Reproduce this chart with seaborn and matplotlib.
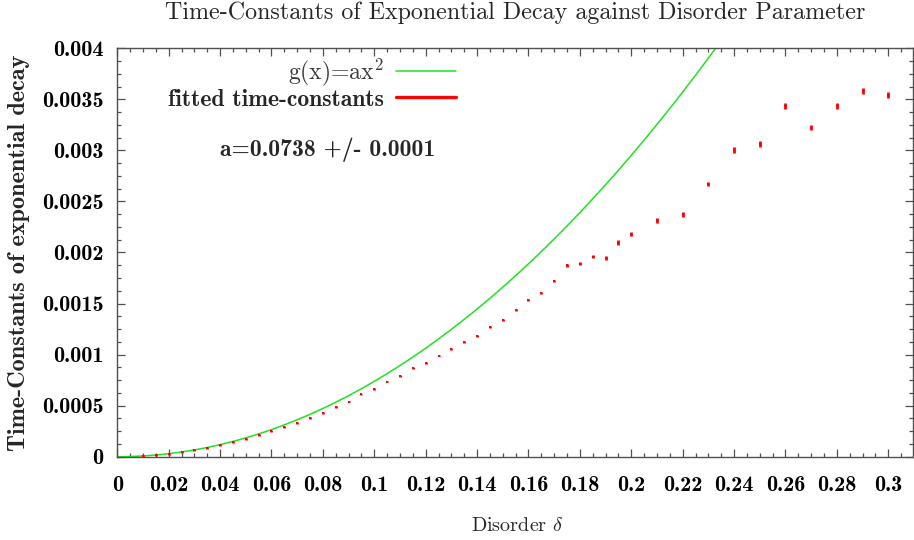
import numpy as np
import matplotlib
matplotlib.use("Agg")
import matplotlib.pyplot as plt
from matplotlib.lines import Line2D
from matplotlib.ticker import MultipleLocator, FuncFormatter
import seaborn as sns

# Disorder parameter values
delta = [0.010, 0.015, 0.020, 0.025, 0.030, 0.035, 0.040, 0.045, 0.050, 0.055,
         0.060, 0.065, 0.070, 0.075, 0.080, 0.085, 0.090, 0.095, 0.100, 0.105,
         0.110, 0.115, 0.120, 0.125, 0.130, 0.135, 0.140, 0.145, 0.150, 0.155,
         0.160, 0.165, 0.170, 0.175, 0.180, 0.185, 0.190, 0.195, 0.200, 0.210,
         0.220, 0.230, 0.240, 0.250, 0.260, 0.270, 0.280, 0.290, 0.300]

# Fitted time-constants of the exponential decay
tau = [0.000007, 0.000014, 0.000029, 0.000046, 0.000066, 0.000088, 0.000115,
       0.000141, 0.000173, 0.000210, 0.000249, 0.000291, 0.000330, 0.000376,
       0.000431, 0.000487, 0.000539, 0.000611, 0.000663, 0.000735, 0.000790,
       0.000869, 0.000915, 0.000990, 0.001058, 0.001123, 0.001185, 0.001273,
       0.001342, 0.001434, 0.001535, 0.001606, 0.001724, 0.001875, 0.001890,
       0.001959, 0.001946, 0.002096, 0.002184, 0.002315, 0.002374, 0.002674,
       0.003004, 0.003063, 0.003438, 0.003222, 0.003438, 0.003582, 0.003543]

# Uncertainty of each fitted time-constant
tau_err = [0.000008] * 24 + [0.000010] * 9 + \
          [0.000015, 0.000015, 0.000015, 0.000015, 0.000022, 0.000020,
           0.000024, 0.000023, 0.000020, 0.000031, 0.000026, 0.000031,
           0.000026, 0.000031, 0.000034, 0.000029]

# Quadratic fit g(x) = a x^2
fit_a = 0.0738
fit_a_err = 0.0001

x_ticks_step = 0.02
y_ticks_step = 0.0005

GREEN = "#22e022"
RED = "#ff0000"
AXIS_GREY = "#505050"

sns.set_style("ticks")
plt.rcParams.update({
    "font.family": ["cmr10", "DejaVu Serif"],
    "mathtext.fontset": "cm",
    "axes.formatter.use_mathtext": True,
    "axes.unicode_minus": False,
})

fig = plt.figure(figsize=(9.14, 5.40), dpi=100)
ax = fig.add_axes([117.3 / 914, 83.3 / 540, 795.4 / 914, 408.4 / 540])

xs = np.linspace(0, 0.31, 400)
sns.lineplot(x=xs, y=fit_a * xs ** 2, ax=ax, color=GREEN, lw=1.1, zorder=2)

ax.errorbar(delta, tau, yerr=tau_err, fmt="s", ms=2.0, mew=0, color=RED,
            ecolor=RED, elinewidth=2.0, capsize=0, zorder=3)

ax.set_xlim(0, 0.3095)
ax.set_ylim(0, 0.004)

ax.xaxis.set_major_locator(MultipleLocator(x_ticks_step))
ax.xaxis.set_minor_locator(MultipleLocator(0.005))
ax.yaxis.set_major_locator(MultipleLocator(y_ticks_step))
ax.yaxis.set_minor_locator(MultipleLocator(0.000125))
fmt = FuncFormatter(lambda v, p: f"{round(v, 7):g}")
ax.xaxis.set_major_formatter(fmt)
ax.yaxis.set_major_formatter(fmt)

ax.tick_params(which="both", direction="in", top=True, right=True,
               color=AXIS_GREY, width=0.9, labelcolor="black",
               labelfontfamily="cmb10", labelsize=16)
ax.tick_params(which="major", length=5.5)
ax.tick_params(which="minor", length=3.0)
ax.tick_params(axis="x", which="major", pad=14)
ax.tick_params(axis="y", which="major", pad=10)
for s in ax.spines.values():
    s.set_color(AXIS_GREY)
    s.set_linewidth(1.0)

ax.set_title("Time-Constants of Exponential Decay against Disorder Parameter",
             fontsize=17.3, pad=21)
ax.set_xlabel(r"Disorder $\delta$", fontsize=14.5)
ax.xaxis.set_label_coords(0.503, -0.147)
ax.set_ylabel("Time-Constants of exponential decay", fontsize=17.5,
              fontfamily="cmb10")
ax.yaxis.set_label_coords(-0.11, 0.5)

handles = [Line2D([], [], color=GREEN, lw=1.1),
           Line2D([], [], color=RED, lw=2.4)]
leg = ax.legend(handles, [r"g(x)=ax$^2$", "fitted time-constants"],
                loc="upper right", bbox_to_anchor=(0.4258, 0.980),
                markerfirst=False, frameon=False, alignment="right",
                fontsize=17, handlelength=2.55, handletextpad=0.5,
                labelspacing=0.04, borderpad=0, borderaxespad=0)
texts = leg.get_texts()
texts[0].set_color("#3a3a3a")
texts[1].set_fontfamily("cmb10")

ax.text(0.04, 0.003004, f"a={fit_a} +/- {fit_a_err}", fontfamily="cmb10",
        fontsize=17, ha="left", va="center")

fig.savefig("out.png", dpi=100)
